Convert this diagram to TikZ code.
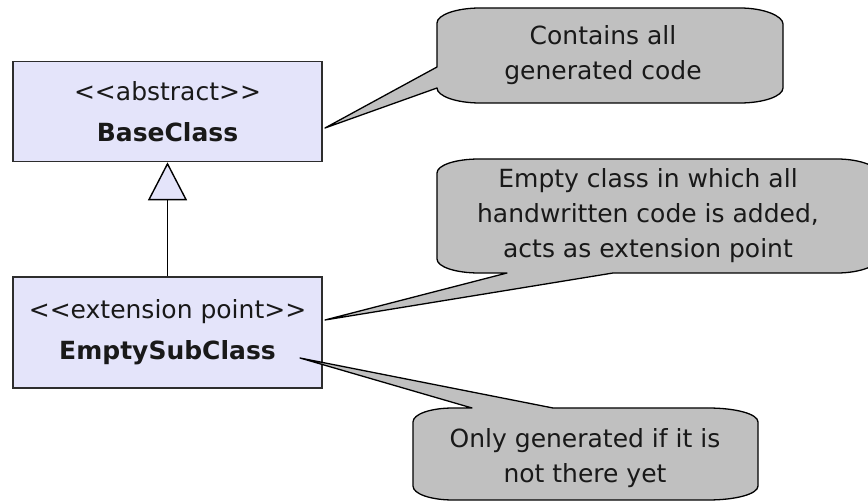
\documentclass[tikz,border=0pt]{standalone}
\usepackage{fontspec}
\setmainfont{DejaVu Sans}
\usetikzlibrary{arrows.meta}
\definecolor{classfill}{RGB}{228,228,250}
\definecolor{classline}{RGB}{45,45,45}
\definecolor{notefill}{RGB}{192,192,192}
\definecolor{inktext}{RGB}{25,25,25}

\begin{document}
\begin{tikzpicture}[x=1pt, y=-1pt,
  classbox/.style={draw=classline, line width=1.6pt, fill=classfill,
    minimum width=309pt, inner sep=0pt, align=center, text=inktext,
    font=\fontsize{25}{41}\selectfont},
  notebody/.style={draw=black, line width=1.3pt, fill=notefill, line join=round},
  notetext/.style={align=center, inner sep=0pt, text=inktext,
    font=\fontsize{25}{35}\selectfont},
  inherit/.style={line width=1.4pt,
    -{Triangle[open, length=38pt, width=39pt, fill=classfill]}}
]
\useasboundingbox (0,0) rectangle (868,502);
\clip (0,0) rectangle (868,502);

% classes
\node[classbox, minimum height=100pt] (base) at (167.5,111.5)
  {{<}{<}abstract{>}{>}\\\textbf{BaseClass}};
\node[classbox, minimum height=111pt] (sub) at (167.5,332.5)
  {{<}{<}extension point{>}{>}\\\textbf{EmptySubClass}};

% generalization
\draw[inherit] (sub.north) -- (base.south);

% callout bodies with their pointers
\coordinate (tip1) at (325,128);
\coordinate (tip2) at (325,320);
\coordinate (tip3) at (300,358);

\draw[notebody] (437,23) -- (437,67) -- (tip1) -- (437,88)
  .. controls (437,96) and (456,103) .. (480,103) -- (740,103)
  .. controls (764,103) and (783,96) .. (783,88) -- (783,24)
  .. controls (783,16) and (764,8) .. (740,8) -- (480,8)
  .. controls (456,8) and (437,15) .. (437,23) -- cycle;

\draw[notebody] (437,173) -- (437,259)
  .. controls (437,267) and (456,273) .. (479,273) -- (507,273) -- (tip2)
  -- (613,273) -- (837,273)
  .. controls (861,273) and (880,265) .. (880,257) -- (880,175)
  .. controls (880,167) and (861,159) .. (837,159) -- (479,159)
  .. controls (456,159) and (437,165) .. (437,173) -- cycle;

\draw[notebody] (413,422)
  .. controls (413,414) and (431,408) .. (453,408) -- (472,408) -- (tip3)
  -- (553,408) -- (708,408)
  .. controls (736,408) and (758,414) .. (758,422) -- (758,486)
  .. controls (758,494) and (736,500) .. (708,500) -- (453,500)
  .. controls (431,500) and (413,494) .. (413,486) -- cycle;

% callout texts
\node[notetext] (n1) at (603,55) {Contains all\\generated code};
\node[notetext] (n2) at (648,216) {Empty class in which all\\handwritten code is added,\\acts as extension point};
\node[notetext] (n3) at (585,458) {Only generated if it is\\not there yet};
\end{tikzpicture}
\end{document}
